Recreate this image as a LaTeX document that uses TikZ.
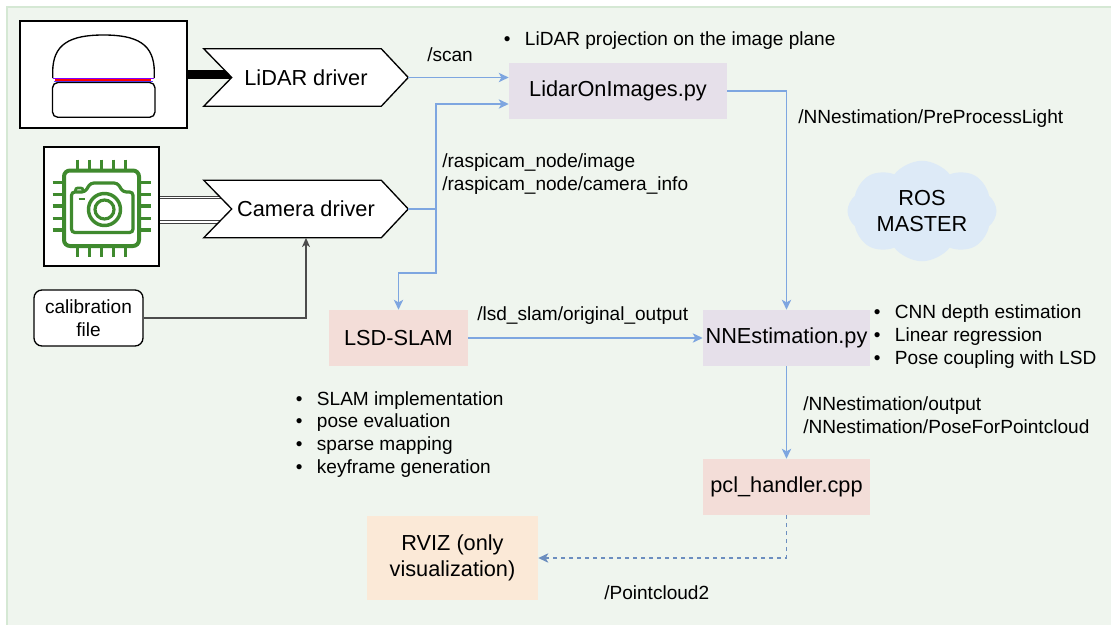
\documentclass[tikz,border=0pt]{standalone}
\usepackage{fontspec}
\setmainfont{Liberation Sans}
\usetikzlibrary{arrows.meta,shapes.symbols,calc}

\definecolor{bgreen}{HTML}{EFF5EE}
\definecolor{bgedge}{HTML}{D5E8D4}
\definecolor{flow}{HTML}{7EA6E0}
\definecolor{flowdash}{HTML}{6C8EBF}
\definecolor{nodepurple}{HTML}{E6E0EA}
\definecolor{nodepink}{HTML}{F3DDD8}
\definecolor{nodeorange}{HTML}{FBE9D7}
\definecolor{cloudblue}{HTML}{DDEAF7}
\definecolor{chipgreen}{HTML}{3F8A2E}
\definecolor{lidpurple}{HTML}{8000FF}
\definecolor{lidblue}{HTML}{5A3CFF}

\newcommand\bigtext{\fontsize{16.3pt}{20pt}\selectfont}
\newcommand\smalltext{\fontsize{14.3pt}{17.2pt}\selectfont}
\newcommand\itm{\makebox[15.75pt][l]{\textbullet}}

\pgfdeclarelayer{bg}
\pgfdeclarelayer{under}
\pgfsetlayers{bg,under,main}

% outline of a driver block: flat left side with a notch, pointed right side
\newcommand\chevronoutline[1]{%
  \path[draw=black, fill=white, line width=1pt, line join=miter]
    (#1.north west) -- ([xshift=-20.25pt]#1.north east) -- (#1.east)
    -- ([xshift=-20.25pt]#1.south east) -- (#1.south west)
    -- ([xshift=21pt]#1.west) -- cycle;}

\begin{document}
\begin{tikzpicture}[x=0.75pt,y=-0.75pt,
  imgbox/.style={draw=black, fill=white, line width=1pt, inner sep=0pt},
  drvtext/.style={inner sep=0pt, font=\bigtext, minimum width=153pt, minimum height=42.75pt},
  procbox/.style={inner sep=0pt, font=\bigtext, align=center},
  calibbox/.style={draw=black, fill=white, line width=1pt, rounded corners=6pt,
    inner sep=0pt, font=\smalltext, align=center, minimum width=81.75pt, minimum height=42pt},
  flowline/.style={draw=flow, line width=1.1pt, -{Stealth[length=7.5pt,width=7pt,inset=2pt]}},
  lbl/.style={font=\smalltext, inner sep=0pt, anchor=west, align=left},
  rail/.style={draw=black!75, line width=0.5pt, double=white, double distance=1.3pt},
  chip/.style={draw=chipgreen, line width=2.6pt},
]
\useasboundingbox (0,0) rectangle (1111,625);
\begin{pgfonlayer}{bg}
  \fill[white] (0,0) rectangle (1111,625);
  \fill[bgreen, draw=bgedge, line width=1.5pt] (7,7) rectangle (1125,640);
\end{pgfonlayer}

% ---------- sensor pictures ----------
\node[imgbox, minimum width=125.25pt, minimum height=80.25pt] (lidimg) at (103.5,74.5) {};
\node[imgbox, minimum width=86.25pt, minimum height=89.25pt] (camimg) at (101.5,206.5) {};

% LiDAR sensor
\draw[line width=1pt] (52.7,78) -- (52.7,72) .. controls (52.7,44) and (70,35) .. (103.5,35)
  .. controls (137,35) and (154.3,44) .. (154.3,72) -- (154.3,78);
\draw[lidpurple, line width=1.2pt] (52.7,78.4) -- (154.3,78.4);
\draw[red, line width=1.4pt] (55,80) -- (151,80);
\draw[lidblue, line width=1pt] (54,81.6) -- (153,81.6);
\draw[line width=1pt, rounded corners=4pt] (52.5,82.5) rectangle (155,117.3);

% camera chip icon
\draw[chip, line width=3pt, rounded corners=4.5pt] (64,170.5) rectangle (139,246);
\foreach \p in {77.3,89.3,101.5,113.3,125.3}{
  \draw[chip] (\p,159.5) -- (\p,170);
  \draw[chip] (\p,246.5) -- (\p,257);
}
\foreach \p in {182.7,194.3,206,218.3,230}{
  \draw[chip] (52.5,\p) -- (63.5,\p);
  \draw[chip] (139.5,\p) -- (150.5,\p);
}
\draw[chip, line width=2.4pt, rounded corners=2.5pt]
  (71.5,192) -- (85,192) -- (90.5,183) -- (117.5,183) -- (123,192) -- (133,192)
  -- (133,232.5) -- (71.5,232.5) -- cycle;
\draw[chip, line width=2pt, rounded corners=1.5pt] (75.5,192) -- (75.5,188) -- (83,188) -- (83,192);
\draw[chip, line width=2.6pt] (104.5,209.5) circle[radius=16];
\draw[chip, line width=2.4pt] (104.5,209.5) circle[radius=9.5];
\draw[chip, line width=2.2pt] (78.5,199) -- (85,199);

% ---------- driver blocks ----------
\node[drvtext] (lidrv) at (306,77.5) {LiDAR driver};
\node[drvtext] (camdrv) at (306,209) {Camera driver};
\begin{pgfonlayer}{under}
  \chevronoutline{lidrv}
  \chevronoutline{camdrv}
\end{pgfonlayer}

% sensor-to-driver links
\begin{pgfonlayer}{bg}
  \draw[line width=6.75pt] (lidimg.east) -- ($(lidrv.west |- lidimg.east)+(28,0)$);
  \fill[white] ($(camimg.east |- camdrv.west)+(0,-11.5)$) rectangle ($(camdrv.west)+(28,13)$);
  \draw[rail] ($(camimg.east |- camdrv.west)+(0,-11.5)$) -- ($(camdrv.west)+(28,-11.5)$);
  \draw[rail] ($(camimg.east |- camdrv.west)+(0,13)$) -- ($(camdrv.west)+(28,13)$);
\end{pgfonlayer}

\node[calibbox] (calib) at (88.5,318) {calibration\\file};

% ---------- processing nodes ----------
\node[procbox, fill=nodepurple, minimum width=163.5pt, minimum height=42pt] (loi) at (618,91) {LidarOnImages.py};
\node[procbox, fill=nodepink, minimum width=104.25pt, minimum height=42pt] (lsd) at (398.5,338) {LSD-SLAM};
\node[procbox, fill=nodepurple, minimum width=125.25pt, minimum height=42pt] (nne) at (786.5,338) {NNEstimation.py};
\node[procbox, fill=nodepink, minimum width=125.25pt, minimum height=42pt] (pcl) at (786.5,487) {pcl\_handler.cpp};
\node[procbox, fill=nodeorange, minimum width=128.25pt, minimum height=63pt] (rviz) at (452.5,558) {RVIZ (only\\visualization)};
\node[cloud, cloud puffs=8, cloud puff arc=105, aspect=1.55, fill=cloudblue, draw=none,
  inner sep=0pt, minimum width=111.75pt, minimum height=72.75pt, font=\bigtext, align=center]
  (ros) at (922,211) {ROS\\MASTER};

% ---------- topics ----------
\coordinate (split) at (436,209);
\draw[flowline] (lidrv.east) -- (lidrv.east -| loi.west);
\draw[flowline] (camdrv.east) -- (split) |- ($(loi.west)+(0,13)$);
\draw[flowline] (split) -- ++(0,64) -| (lsd.north);
\draw[flowline] (loi.east) -| (nne.north);
\draw[flowline] (lsd.east) -- (nne.west);
\draw[flowline] (nne.south) -- (pcl.north);
\draw[flowline, draw=flowdash, dash pattern=on 3pt off 3pt] (pcl.south) |- (rviz.east);
\draw[draw=black!65, line width=0.9pt, -{Stealth[length=7pt,width=6pt,inset=2pt]}, color=black!70]
  (calib.east) -| (camdrv.south);

% ---------- labels ----------
\node[lbl] (lscan) at (427,55) {/scan};
\node[lbl] (lcam) at (442,174.5) {/raspicam\_node/image\\/raspicam\_node/camera\_info};
\node[lbl] (lloi) at (503.7,41) {\itm LiDAR projection on the image plane};
\node[lbl] (lpre) at (798,119) {/NNestimation/PreProcessLight};
\node[lbl] (llsd) at (477,316) {/lsd\_slam/original\_output};
\node[lbl] (lnne) at (873.7,336.5) {\itm CNN depth estimation\\\itm Linear regression\\\itm Pose coupling with LSD};
\node[lbl] (lslam) at (295.7,434.5) {\itm SLAM implementation\\\itm pose evaluation\\\itm sparse mapping\\\itm keyframe generation};
\node[lbl] (lout) at (803,415.5) {/NNestimation/output\\/NNestimation/PoseForPointcloud};
\node[lbl] (lpc) at (604,593) {/Pointcloud2};
\end{tikzpicture}
\end{document}
